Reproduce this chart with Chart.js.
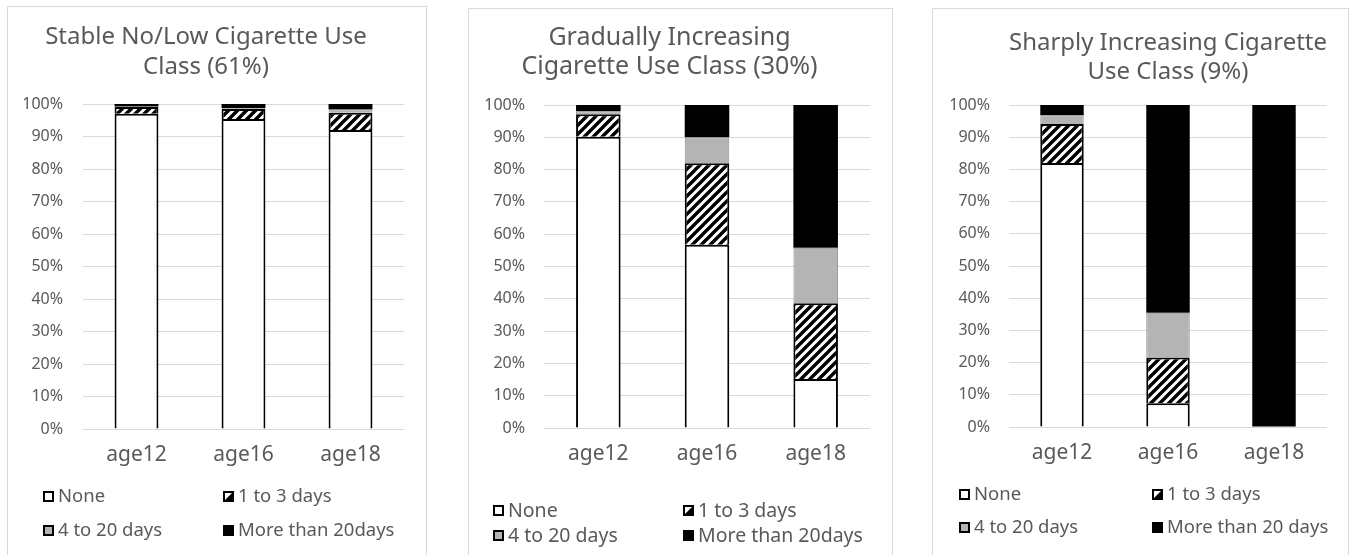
<!DOCTYPE html>
<html>
<head>
<meta charset="utf-8">
<script src="https://cdn.jsdelivr.net/npm/chart.js@4.4.1/dist/chart.umd.min.js"></script>
<style>
  html, body { margin: 0; padding: 0; background: #fff; width: 1357px; height: 555px; overflow: hidden; }
  .panel { position: absolute; box-sizing: border-box; border: 1px solid #d9d9d9; background: #fff; }
  .panel canvas { position: absolute; left: 0; top: 0; }
</style>
</head>
<body>
<div class="panel" style="left:7px;top:6px;width:420px;height:560px;"><canvas id="c1" width="418" height="558"></canvas></div>
<div class="panel" style="left:468px;top:8px;width:425px;height:560px;"><canvas id="c2" width="423" height="558"></canvas></div>
<div class="panel" style="left:932px;top:8px;width:417px;height:560px;"><canvas id="c3" width="415" height="558"></canvas></div>
<script>
// Categories and legend labels
const categories = ['age12', 'age16', 'age18'];
const seriesNames = ['None', '1 to 3 days', '4 to 20 days', 'More than 20days'];
const seriesNamesSharp = ['None', '1 to 3 days', '4 to 20 days', 'More than 20 days'];
const yTickValues = [0, 10, 20, 30, 40, 50, 60, 70, 80, 90, 100];

// Stable No/Low Cigarette Use Class (61%) — percent of class
const stableNone = [97.0, 95.4, 92.0];
const stableLow  = [2.1, 3.1, 5.3];
const stableMid  = [0.1, 0.3, 1.0];
const stableHigh = [0.8, 1.2, 1.7];

// Gradually Increasing Cigarette Use Class (30%)
const gradualNone = [90.2, 56.7, 15.2];
const gradualLow  = [6.9, 25.3, 23.4];
const gradualMid  = [1.0, 8.0, 17.2];
const gradualHigh = [1.9, 10.0, 44.2];

// Sharply Increasing Cigarette Use Class (9%)
const sharpNone = [82.0, 7.4, 0];
const sharpLow  = [12.1, 14.2, 0];
const sharpMid  = [2.7, 13.9, 0];
const sharpHigh = [3.2, 64.5, 100];

const FONT = '"Noto Sans", "Open Sans", sans-serif';
const TEXT = '#595959';
const GRID = '#d9d9d9';
const GREY = '#b4b4b4';

// Diagonal "/" hatch used for the 1 to 3 days series
function makeHatch() {
  const s = 9;
  const c = document.createElement('canvas');
  c.width = s; c.height = s;
  const g = c.getContext('2d');
  g.fillStyle = '#fff';
  g.fillRect(0, 0, s, s);
  g.strokeStyle = '#000';
  g.lineWidth = 3.4;
  g.beginPath();
  g.moveTo(-2, s + 2); g.lineTo(s + 2, -2);
  g.moveTo(-3, 3); g.lineTo(3, -3);
  g.moveTo(s - 3, s + 3); g.lineTo(s + 3, s - 3);
  g.stroke();
  return document.createElement('canvas').getContext('2d').createPattern(c, 'repeat');
}
const hatch = makeHatch();

// Two-column legend drawn under the plot
const gridLegend = {
  id: 'gridLegend',
  afterDraw(chart, args, o) {
    const ctx = chart.ctx;
    ctx.save();
    ctx.font = o.size + 'px ' + FONT;
    ctx.textBaseline = 'middle';
    ctx.textAlign = 'left';
    const b = 11;
    chart.data.datasets.forEach((ds, i) => {
      const x = o.cols[i % 2];
      const y = o.rows[Math.floor(i / 2)];
      const top = Math.round(y - b / 2);
      if (i === 0) {
        ctx.fillStyle = '#fff'; ctx.fillRect(x, top, b, b);
      } else if (i === 1) {
        ctx.fillStyle = '#fff'; ctx.fillRect(x, top, b, b);
        ctx.fillStyle = '#000';
        ctx.beginPath();
        ctx.moveTo(x + b, top); ctx.lineTo(x + b, top + b); ctx.lineTo(x, top + b);
        ctx.closePath(); ctx.fill();
      } else if (i === 2) {
        ctx.fillStyle = GREY; ctx.fillRect(x, top, b, b);
      } else {
        ctx.fillStyle = '#000'; ctx.fillRect(x, top, b, b);
      }
      ctx.strokeStyle = '#000';
      ctx.lineWidth = 2;
      ctx.strokeRect(x + 1, top + 1, b - 2, b - 2);
      ctx.fillStyle = TEXT;
      ctx.fillText(ds.label, x + b + 4, y + 1);
    });
    ctx.restore();
  }
};

function buildChart(id, cfg) {
  const canvas = document.getElementById(id);
  const W = canvas.width, H = canvas.height;
  const axisH = 60;
  const datasets = [
    { label: cfg.names[0], data: cfg.none, backgroundColor: '#fff', borderColor: '#000', borderWidth: 2, borderSkipped: 'start' },
    { label: cfg.names[1], data: cfg.low, backgroundColor: hatch, borderColor: '#000', borderWidth: 2, borderSkipped: 'start' },
    { label: cfg.names[2], data: cfg.mid, backgroundColor: GREY, borderColor: '#8c8c8c', borderWidth: 1, borderSkipped: 'start' },
    { label: cfg.names[3], data: cfg.high, backgroundColor: '#000', borderColor: '#000', borderWidth: 0 }
  ];
  return new Chart(canvas, {
    type: 'bar',
    data: { labels: categories, datasets },
    plugins: [gridLegend],
    options: {
      responsive: false,
      animation: false,
      devicePixelRatio: 1,
      layout: {
        padding: { left: 0, top: 0, right: W - cfg.right, bottom: H - cfg.bottom - axisH }
      },
      datasets: { bar: { categoryPercentage: 1, barPercentage: 0.41 } },
      scales: {
        x: {
          stacked: true,
          grid: { display: false, drawTicks: false },
          border: { display: false },
          ticks: { color: TEXT, font: { family: FONT, size: 21 }, padding: 13, maxRotation: 0 },
          afterFit(s) { s.height = axisH; }
        },
        y: {
          stacked: true,
          min: 0, max: 100,
          afterBuildTicks(s) { s.ticks = yTickValues.map(v => ({ value: v })); },
          grid: { color: GRID, lineWidth: 1, drawTicks: false },
          border: { display: false },
          ticks: { color: TEXT, font: { family: FONT, size: 16 }, padding: cfg.tickPad, callback: v => v + '%' },
          afterFit(s) { s.width = cfg.left; }
        }
      },
      plugins: {
        legend: { display: false },
        tooltip: { enabled: false },
        title: {
          display: true,
          text: cfg.title,
          color: TEXT,
          fullSize: cfg.fullTitle,
          font: { family: FONT, size: cfg.titleSize, weight: 'normal', lineHeight: cfg.titleGap / cfg.titleSize },
          padding: { top: cfg.titleTop, bottom: cfg.top - cfg.titleTop - 2 * cfg.titleGap }
        },
        gridLegend: cfg.legend
      }
    }
  });
}

buildChart('c1', {
  title: ['Stable No/Low Cigarette Use', 'Class (61%)'],
  names: seriesNames,
  none: stableNone, low: stableLow, mid: stableMid, high: stableHigh,
  left: 75, right: 396, top: 97, bottom: 422, tickPad: 20,
  titleSize: 24, titleTop: 15, titleGap: 30, fullTitle: true,
  legend: { size: 18.5, cols: [35, 215], rows: [489, 523] }
});

buildChart('c2', {
  title: ['Gradually Increasing', 'Cigarette Use Class (30%)'],
  names: seriesNames,
  none: gradualNone, low: gradualLow, mid: gradualMid, high: gradualHigh,
  left: 75, right: 401, top: 96, bottom: 419, tickPad: 19,
  titleSize: 25, titleTop: 14, titleGap: 29, fullTitle: true,
  legend: { size: 19.5, cols: [24, 214], rows: [501, 526] }
});

buildChart('c3', {
  title: ['Sharply Increasing Cigarette', 'Use Class (9%)'],
  names: seriesNamesSharp,
  none: sharpNone, low: sharpLow, mid: sharpMid, high: sharpHigh,
  left: 76, right: 394, top: 96, bottom: 418, tickPad: 19,
  titleSize: 24, titleTop: 20, titleGap: 29, fullTitle: false,
  legend: { size: 18.5, cols: [26, 219], rows: [485, 518] }
});
</script>
</body>
</html>
